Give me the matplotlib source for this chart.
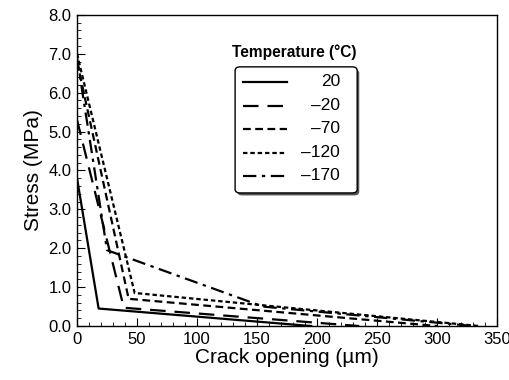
import matplotlib
matplotlib.use("Agg")
import matplotlib.pyplot as plt
from matplotlib.patches import FancyBboxPatch
from matplotlib.ticker import MultipleLocator, FormatStrFormatter

plt.rcParams['font.family'] = ['Liberation Sans', 'DejaVu Sans']

# Data (crack opening in µm, stress in MPa)
temps = ["20", "\u201320", "\u201370", "\u2013120", "\u2013170"]
x_20 = [0, 18, 195]
y_20 = [3.8, 0.45, 0.0]
x_m20 = [0, 39, 235]
y_m20 = [5.3, 0.47, 0.0]
x_m70 = [0, 43, 300]
y_m70 = [6.8, 0.7, 0.0]
x_m120 = [0, 48, 335]
y_m120 = [7.0, 0.85, 0.0]
x_m170 = [0, 25, 155, 330]
y_m170 = [6.9, 1.95, 0.5, 0.0]

xs = [x_20, x_m20, x_m70, x_m120, x_m170]
ys = [y_20, y_m20, y_m70, y_m120, y_m170]
styles = ['-', (0, (7, 4)), (0, (3.5, 2)), (0, (2, 1.3)), (0, (6, 2.5, 1.5, 2.5))]

fig = plt.figure(figsize=(5.1, 3.8), dpi=100)
ax = fig.add_axes([0.151, 0.142, 0.824, 0.819])

for x, y, ls in zip(xs, ys, styles):
    ax.plot(x, y, color='black', linestyle=ls, linewidth=1.6)

ax.set_xlim(0, 350)
ax.set_ylim(0, 8)
ax.xaxis.set_major_locator(MultipleLocator(50))
ax.xaxis.set_minor_locator(MultipleLocator(10))
ax.yaxis.set_major_locator(MultipleLocator(1))
ax.yaxis.set_minor_locator(MultipleLocator(0.2))
ax.yaxis.set_major_formatter(FormatStrFormatter('%.1f'))
ax.tick_params(which='both', direction='in', top=False, right=False, labelsize=12)
ax.tick_params(which='major', length=6, width=0.8, pad=4)
ax.tick_params(which='minor', length=3, width=0.6)
for s in ax.spines.values():
    s.set_linewidth(1.0)

ax.set_xlabel("Crack opening (\u00b5m)", fontsize=15, labelpad=1)
ax.set_ylabel("Stress (MPa)", fontsize=15, labelpad=4)

# Legend drawn manually (axes coordinates)
def axx(px):
    return (px - 77) / 420.0

def axy(py):
    return (326 - py) / 311.0

bx0, bx1, by0, by1 = axx(235), axx(357), axy(193), axy(67)
shadow = FancyBboxPatch((bx0 + 0.005, by0 - 0.008), bx1 - bx0, by1 - by0,
                        boxstyle="round,pad=0,rounding_size=0.012",
                        transform=ax.transAxes, facecolor='#555555',
                        edgecolor='none', zorder=4)
box = FancyBboxPatch((bx0, by0), bx1 - bx0, by1 - by0,
                     boxstyle="round,pad=0,rounding_size=0.012",
                     transform=ax.transAxes, facecolor='white',
                     edgecolor='black', linewidth=1.0, zorder=5)
ax.add_patch(shadow)
ax.add_patch(box)
ax.text(axx(232), axy(52), "Temperature (\u00b0C)", transform=ax.transAxes,
        fontsize=11.2, fontweight='bold', ha='left', va='center', zorder=6)
row_py = [82, 106, 129, 153, 176]
for py, lab, ls in zip(row_py, temps, styles):
    ax.plot([axx(243), axx(287)], [axy(py), axy(py)], transform=ax.transAxes,
            color='black', linestyle=ls, linewidth=1.6, zorder=6)
    ax.text(axx(340), axy(py), lab, transform=ax.transAxes, fontsize=12.5,
            ha='right', va='center', zorder=6)

fig.savefig("out.png", dpi=100)
